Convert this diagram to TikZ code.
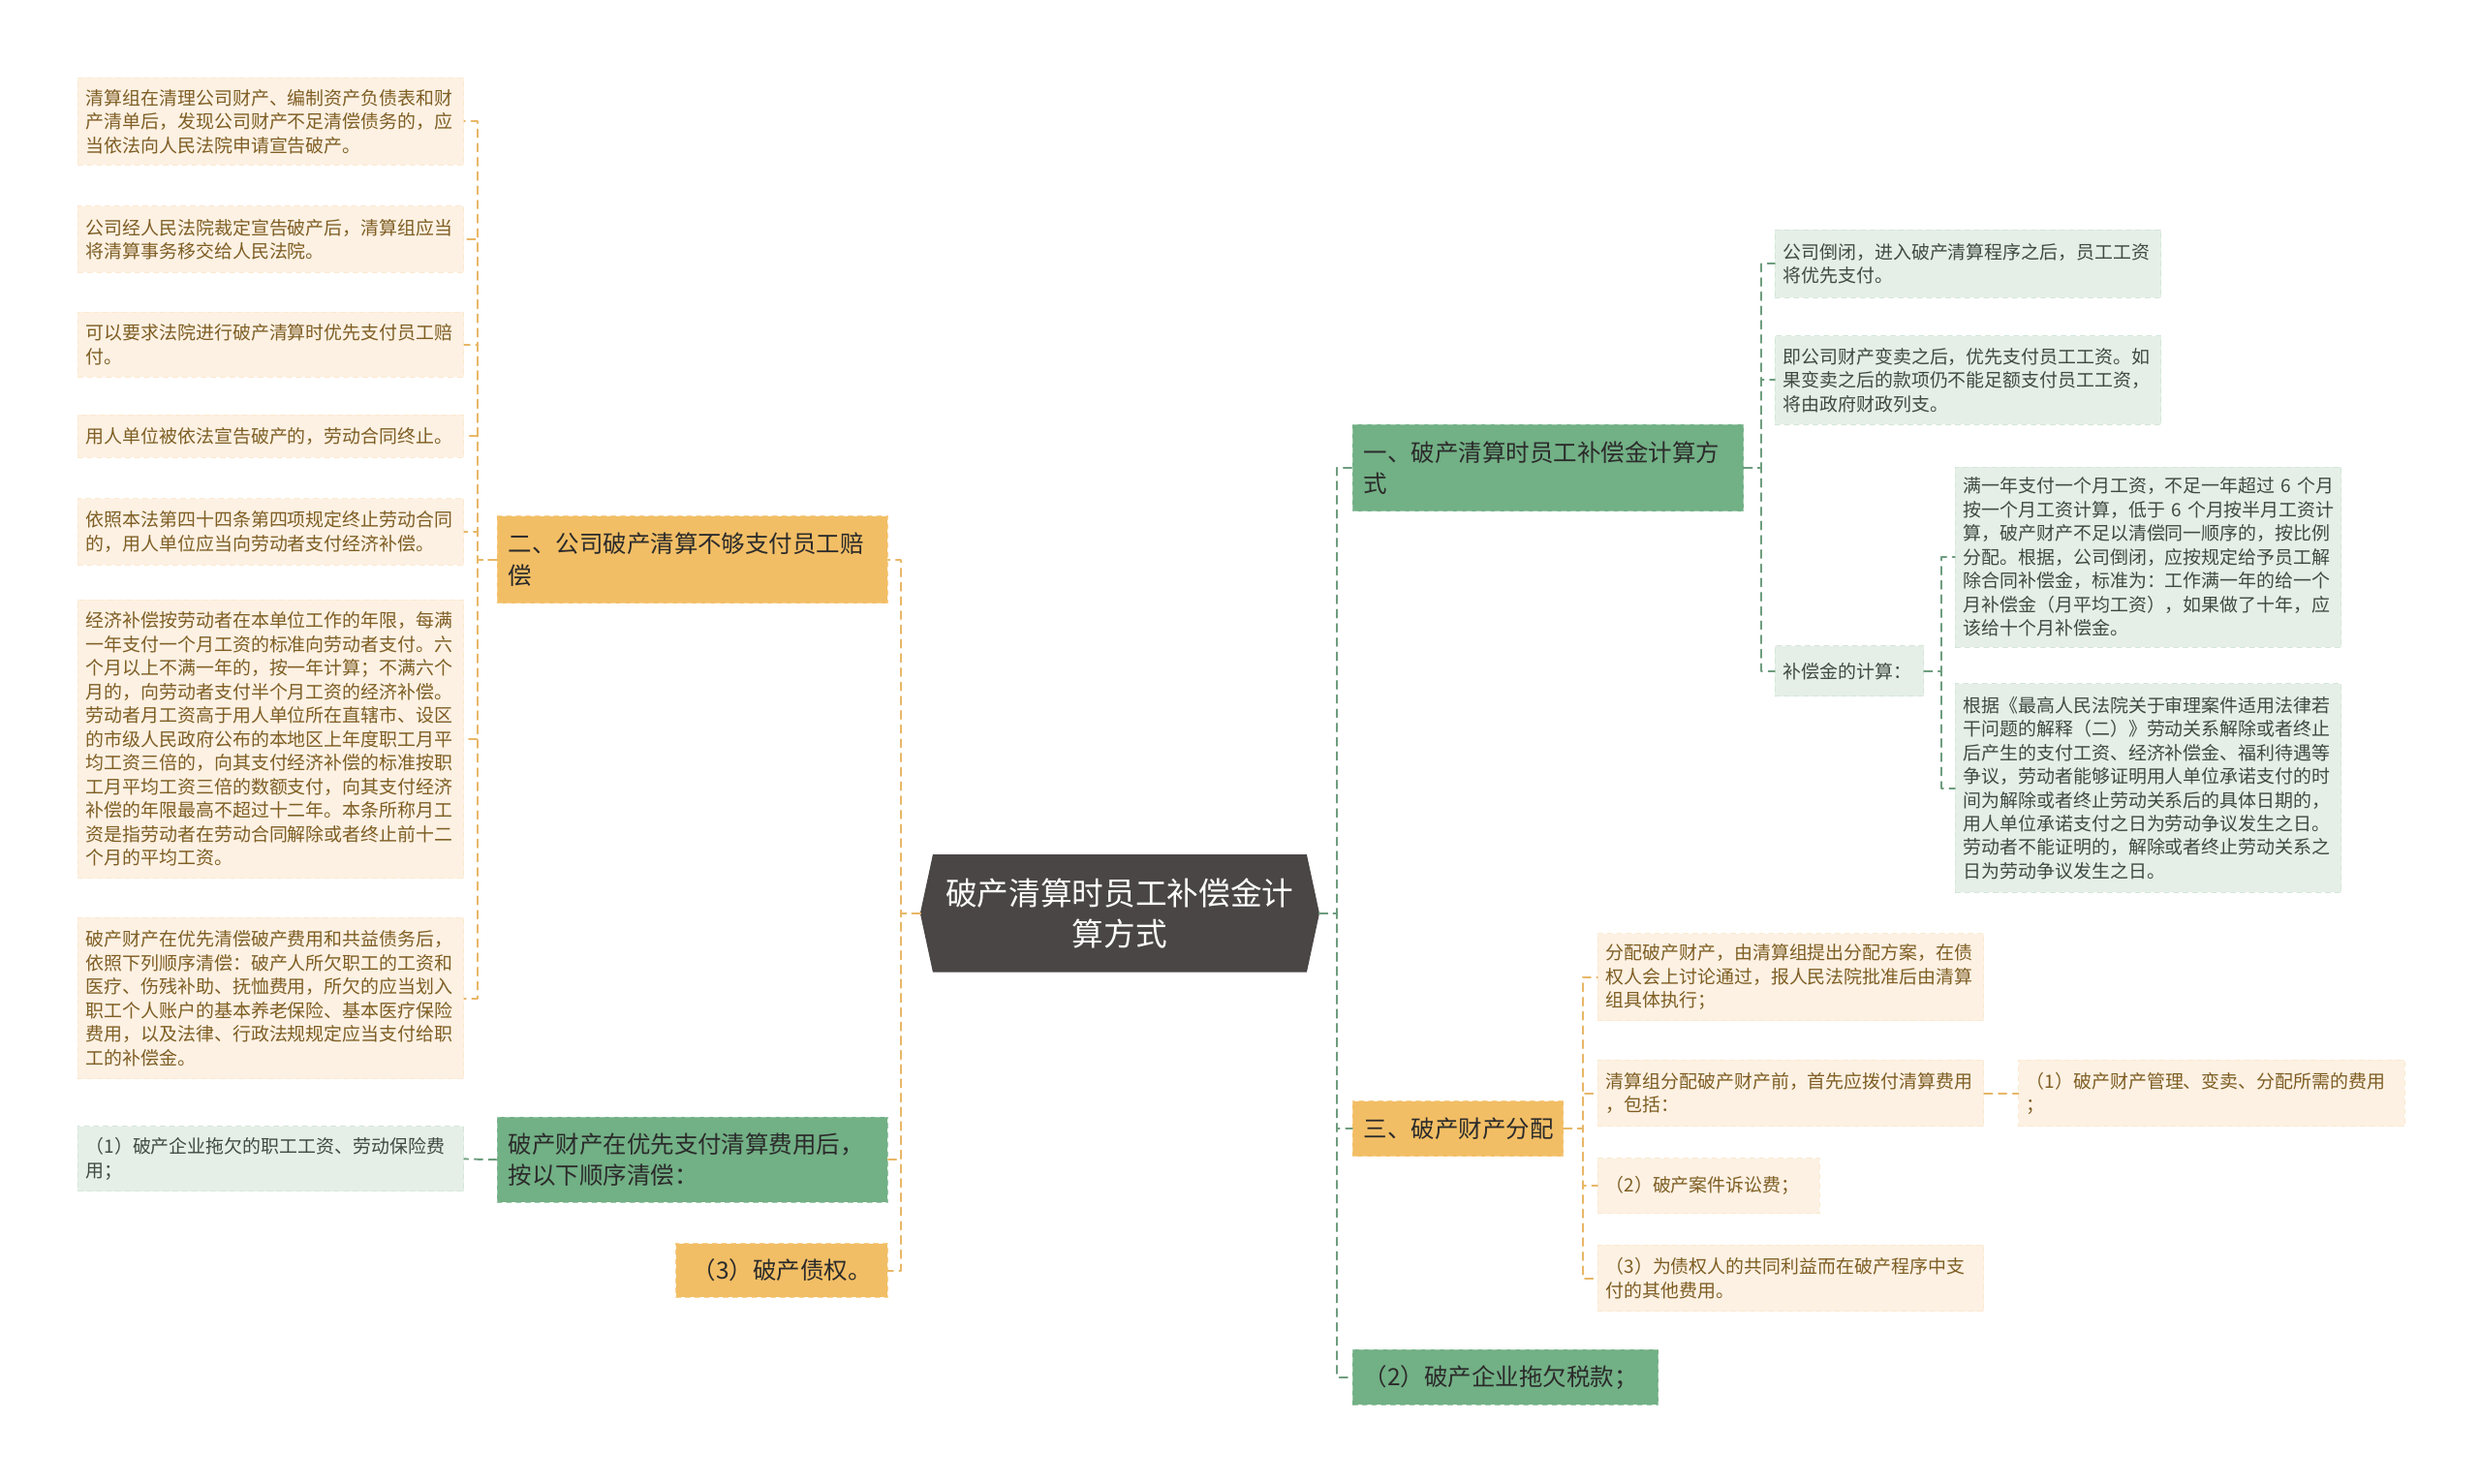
\documentclass[tikz,border=0pt]{standalone}
\usepackage{fontspec}
\setmainfont{Noto Sans CJK SC}
\usetikzlibrary{backgrounds}
\definecolor{orb}{HTML}{F2BE65}
\definecolor{grb}{HTML}{72B085}
\definecolor{orl}{HTML}{FDF1E3}
\definecolor{grl}{HTML}{E5EFE7}
\definecolor{ctrc}{HTML}{4A4646}
\definecolor{lineo}{HTML}{E8B767}
\definecolor{lineg}{HTML}{6E9D7E}
\definecolor{txtbr}{HTML}{7E5E24}
\definecolor{txtgr}{HTML}{3F4A42}
\definecolor{txtdk}{HTML}{2B2B2B}
\begin{document}
\begin{tikzpicture}[x=1pt, y=-1pt, line cap=round, line join=round]
\tikzset{box/.style={anchor=north west, align=left, inner xsep=5pt, inner ysep=0pt, dashed, line width=0.6pt},
  leafo/.style={box, fill=orl, draw=orl!85!orb, text=txtbr, minimum width=244pt, text width=234pt, font=\fontsize{11.6}{15}\selectfont},
  leafg/.style={box, fill=grl, draw=grl!85!grb, text=txtgr, minimum width=244pt, text width=234pt, font=\fontsize{11.6}{15}\selectfont},
  brancho/.style={box, inner xsep=7pt, fill=orb, draw=orb!70!white, text=txtdk, minimum width=247pt, text width=233pt, font=\fontsize{15}{20}\selectfont},
  branchg/.style={box, inner xsep=7pt, fill=grb, draw=grb!70!white, text=txtdk, minimum width=247pt, text width=233pt, font=\fontsize{15}{20}\selectfont},
  ctr/.style={align=center, text=white, minimum width=252pt, minimum height=74pt, inner sep=0pt, font=\fontsize{20}{26}\selectfont},
  lko/.style={draw=lineo, line width=1.2pt, dash pattern=on 5pt off 4pt},
  lkg/.style={draw=lineg, line width=1.2pt, dash pattern=on 5pt off 4pt}}
\useasboundingbox (0,0) rectangle (1568,938);

\node[ctr] (c) at (708,577.5) {破产清算时员工补偿金计\\算方式};
\begin{scope}[on background layer]
\fill[white] (0,0) rectangle (1568,938);
\fill[ctrc] ([xshift=8pt]c.north west) -- ([xshift=-8pt]c.north east) -- (c.east) -- ([xshift=-8pt]c.south east) -- ([xshift=8pt]c.south west) -- (c.west) -- cycle;
\end{scope}

% left side
\node[brancho, minimum height=55pt] (b2) at (314,326) {二、公司破产清算不够支付员工赔\\偿};
\node[branchg, minimum height=54pt] (bg) at (314,706) {破产财产在优先支付清算费用后，\\按以下顺序清偿：};
\node[brancho, minimum width=134pt, text width=120pt, align=center, minimum height=34pt] (b3) at (427,786) {（3）破产债权。};

\node[leafo, minimum height=55pt] (a1) at (49,49) {清算组在清理公司财产、编制资产负债表和财\\产清单后，发现公司财产不足清偿债务的，应\\当依法向人民法院申请宣告破产。};
\node[leafo, minimum height=42pt] (a2) at (49,130) {公司经人民法院裁定宣告破产后，清算组应当\\将清算事务移交给人民法院。};
\node[leafo, minimum height=41pt] (a3) at (49,197) {可以要求法院进行破产清算时优先支付员工赔\\付。};
\node[leafo, minimum height=27pt] (a4) at (49,262) {用人单位被依法宣告破产的，劳动合同终止。};
\node[leafo, minimum height=42pt] (a5) at (49,315) {依照本法第四十四条第四项规定终止劳动合同\\的，用人单位应当向劳动者支付经济补偿。};
\node[leafo, minimum height=176pt] (a6) at (49,379) {经济补偿按劳动者在本单位工作的年限，每满\\一年支付一个月工资的标准向劳动者支付。六\\个月以上不满一年的，按一年计算；不满六个\\月的，向劳动者支付半个月工资的经济补偿。\\劳动者月工资高于用人单位所在直辖市、设区\\的市级人民政府公布的本地区上年度职工月平\\均工资三倍的，向其支付经济补偿的标准按职\\工月平均工资三倍的数额支付，向其支付经济\\补偿的年限最高不超过十二年。本条所称月工\\资是指劳动者在劳动合同解除或者终止前十二\\个月的平均工资。};
\node[leafo, minimum height=102pt] (a7) at (49,580) {破产财产在优先清偿破产费用和共益债务后，\\依照下列顺序清偿：破产人所欠职工的工资和\\医疗、伤残补助、抚恤费用，所欠的应当划入\\职工个人账户的基本养老保险、基本医疗保险\\费用，以及法律、行政法规规定应当支付给职\\工的补偿金。};
\node[leafg, minimum height=41pt] (g1) at (49,712) {（1）破产企业拖欠的职工工资、劳动保险费\\用；};

% right side
\node[branchg, minimum height=55pt] (r1) at (855,268) {一、破产清算时员工补偿金计算方\\式};
\node[brancho, minimum width=133pt, text width=119pt, minimum height=35pt] (r3) at (855,696) {三、破产财产分配};
\node[branchg, minimum width=193pt, text width=179pt, minimum height=35pt] (r4) at (855,853) {（2）破产企业拖欠税款；};

\node[leafg, minimum height=43pt] (r1a) at (1122,145) {公司倒闭，进入破产清算程序之后，员工工资\\将优先支付。};
\node[leafg, minimum height=56pt] (r1b) at (1122,212) {即公司财产变卖之后，优先支付员工工资。如\\果变卖之后的款项仍不能足额支付员工工资，\\将由政府财政列支。};
\node[leafg, minimum width=94pt, text width=84pt, minimum height=32pt] (r1c) at (1122,408) {补偿金的计算：};
\node[leafg, minimum height=114pt] (r1c1) at (1236,295) {满一年支付一个月工资，不足一年超过~6~个月\\按一个月工资计算，低于~6~个月按半月工资计\\算，破产财产不足以清偿同一顺序的，按比例\\分配。根据，公司倒闭，应按规定给予员工解\\除合同补偿金，标准为：工作满一年的给一个\\月补偿金（月平均工资），如果做了十年，应\\该给十个月补偿金。};
\node[leafg, minimum height=132pt] (r1c2) at (1236,432) {根据《最高人民法院关于审理案件适用法律若\\干问题的解释（二）》劳动关系解除或者终止\\后产生的支付工资、经济补偿金、福利待遇等\\争议，劳动者能够证明用人单位承诺支付的时\\间为解除或者终止劳动关系后的具体日期的，\\用人单位承诺支付之日为劳动争议发生之日。\\劳动者不能证明的，解除或者终止劳动关系之\\日为劳动争议发生之日。};

\node[leafo, minimum height=55pt] (r3a) at (1010,590) {分配破产财产，由清算组提出分配方案，在债\\权人会上讨论通过，报人民法院批准后由清算\\组具体执行；};
\node[leafo, minimum height=42pt] (r3b) at (1010,670) {清算组分配破产财产前，首先应拨付清算费用\\，包括：};
\node[leafo, minimum width=243pt, minimum height=42pt] (r3b1) at (1276,670) {（1）破产财产管理、变卖、分配所需的费用\\；};
\node[leafo, minimum width=140pt, text width=130pt, minimum height=35pt] (r3c) at (1010,732) {（2）破产案件诉讼费；};
\node[leafo, minimum height=42pt] (r3d) at (1010,787) {（3）为债权人的共同利益而在破产程序中支\\付的其他费用。};

% connectors
\foreach \n in {b2,bg,b3} \draw[lko] (c.west) -- ++(-12,0) |- (\n.east);
\foreach \n in {a1,a2,a3,a4,a5,a6,a7} \draw[lko] (b2.west) -- ++(-12,0) |- (\n.east);
\draw[lkg] (bg.west) -- (g1.east);
\foreach \n in {r1,r3,r4} \draw[lkg] (c.east) -- ++(11,0) |- (\n.west);
\foreach \n in {r1a,r1b,r1c} \draw[lkg] (r1.east) -- ++(11,0) |- (\n.west);
\foreach \n in {r1c1,r1c2} \draw[lkg] (r1c.east) -- ++(11,0) |- (\n.west);
\foreach \n in {r3a,r3b,r3c,r3d} \draw[lko] (r3.east) -- ++(12,0) |- (\n.west);
\draw[lko] (r3b.east) -- (r3b1.west);
\end{tikzpicture}
\end{document}
